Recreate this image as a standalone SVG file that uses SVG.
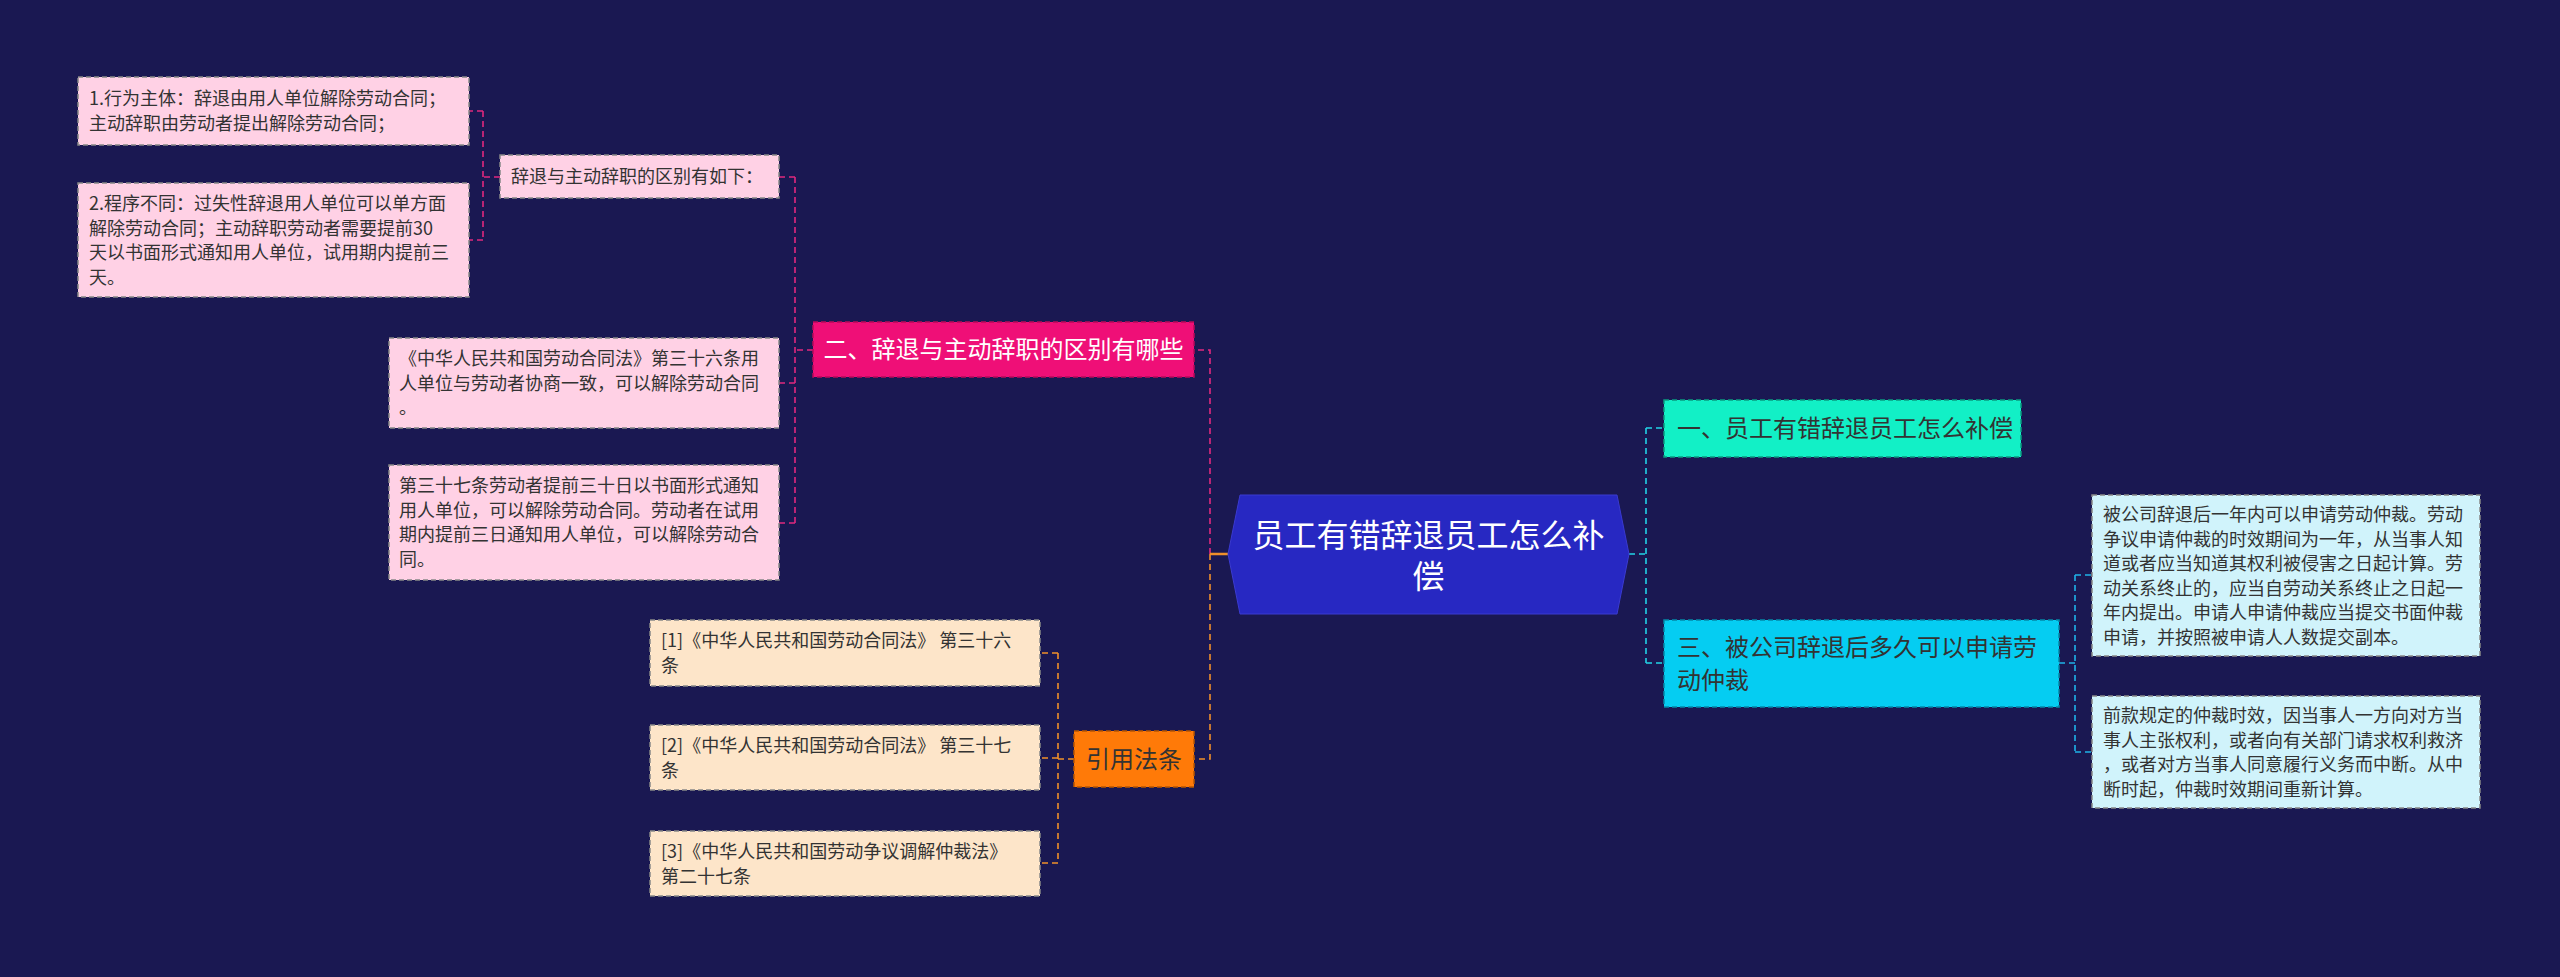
<svg xmlns="http://www.w3.org/2000/svg" width="2560" height="977" viewBox="0 0 2560 977">
<style>
.t{font-family:"Noto Sans CJK SC","Liberation Sans",sans-serif;}
.leaf{font-size:18px;fill:#333333;}
.big{font-size:24px;}
.c{stroke-width:1.6;fill:none;stroke-dasharray:6,4;}
.pk{stroke:#e0287d;}
.or{stroke:#f0902a;}
.cy{stroke:#22d3e6;}
.cb{stroke:#1fb2e8;}
.bx{stroke-width:1.5;stroke-dasharray:5,3;}
</style>
<rect width="2560" height="977" fill="#1a1852"/>
<g id="connectors">
<path class="c pk" d="M1210,554 V350 H1194"/>
<path class="c or" d="M1210,554 V759 H1194"/>
<path d="M1228,554 H1210" stroke="#f0902a" stroke-width="2.5" fill="none"/>
<path class="c pk" d="M813,350 H795 M795,177 V524 M795,177 H779 M795,383 H779 M795,523 H779"/>
<path class="c pk" d="M500,177 H483 M483,111 V240 M483,111 H469 M483,240 H469"/>
<path class="c or" d="M1074,759 H1058 M1058,653 V863 M1058,653 H1040 M1058,758 H1040 M1058,863 H1040"/>
<path class="c cy" d="M1629,554 H1646 M1646,428 V663 M1646,428 H1664 M1646,663 H1664"/>
<path class="c cb" d="M2059,663 H2075 M2075,575 V752 M2075,575 H2092 M2075,752 H2092"/>
</g>
<g id="center">
<polygon points="1240,495 1617,495 1629,554 1617,614 1240,614 1228,554" fill="#2728c2" stroke="#3a3ad0" stroke-width="1"/>
<text class="t" font-size="32" fill="#ffffff" text-anchor="middle"><tspan x="1428.5" y="547">员工有错辞退员工怎么补</tspan><tspan x="1428.5" y="588">偿</tspan></text>
</g>
<g id="n-pink">
<rect class="bx" x="813" y="322" width="381" height="55" fill="#ef0f77" stroke="#b80a5a"/>
<text class="t big" x="1003.5" y="358" fill="#ffffff" text-anchor="middle">二、辞退与主动辞职的区别有哪些</text>
</g>
<g id="n-sub">
<rect class="bx" x="500" y="155" width="279" height="43" fill="#ffd1e5" stroke="#888888"/>
<text class="t leaf" x="511" y="183">辞退与主动辞职的区别有如下：</text>
</g>
<g id="n-l1">
<rect class="bx" x="78" y="77" width="391" height="68" fill="#ffd1e5" stroke="#888888"/>
<text class="t leaf"><tspan x="89" y="105">1.行为主体：辞退由用人单位解除劳动合同；</tspan><tspan x="89" y="129.5">主动辞职由劳动者提出解除劳动合同；</tspan></text>
</g>
<g id="n-l2">
<rect class="bx" x="78" y="183" width="391" height="114" fill="#ffd1e5" stroke="#888888"/>
<text class="t leaf"><tspan x="89" y="210">2.程序不同：过失性辞退用人单位可以单方面</tspan><tspan x="89" y="234.5">解除劳动合同；主动辞职劳动者需要提前30</tspan><tspan x="89" y="259">天以书面形式通知用人单位，试用期内提前三</tspan><tspan x="89" y="283.5">天。</tspan></text>
</g>
<g id="n-l3">
<rect class="bx" x="389" y="338" width="390" height="90" fill="#ffd1e5" stroke="#888888"/>
<text class="t leaf"><tspan x="399" y="365">《中华人民共和国劳动合同法》第三十六条用</tspan><tspan x="399" y="389.5">人单位与劳动者协商一致，可以解除劳动合同</tspan><tspan x="399" y="414">。</tspan></text>
</g>
<g id="n-l4">
<rect class="bx" x="389" y="465" width="390" height="115" fill="#ffd1e5" stroke="#888888"/>
<text class="t leaf"><tspan x="399" y="492">第三十七条劳动者提前三十日以书面形式通知</tspan><tspan x="399" y="516.5">用人单位，可以解除劳动合同。劳动者在试用</tspan><tspan x="399" y="541">期内提前三日通知用人单位，可以解除劳动合</tspan><tspan x="399" y="565.5">同。</tspan></text>
</g>
<g id="n-orange">
<rect class="bx" x="1074" y="731" width="120" height="56" fill="#ff7a08" stroke="#b85500"/>
<text class="t big" x="1134" y="767.5" fill="#333333" text-anchor="middle">引用法条</text>
</g>
<g id="n-r1">
<rect class="bx" x="650" y="620" width="390" height="66" fill="#fde5c9" stroke="#888888"/>
<text class="t leaf"><tspan x="661" y="647">[1]《中华人民共和国劳动合同法》 第三十六</tspan><tspan x="661" y="671.5">条</tspan></text>
</g>
<g id="n-r2">
<rect class="bx" x="650" y="725" width="390" height="65" fill="#fde5c9" stroke="#888888"/>
<text class="t leaf"><tspan x="661" y="752">[2]《中华人民共和国劳动合同法》 第三十七</tspan><tspan x="661" y="776.5">条</tspan></text>
</g>
<g id="n-r3">
<rect class="bx" x="650" y="831" width="390" height="65" fill="#fde5c9" stroke="#888888"/>
<text class="t leaf"><tspan x="661" y="858">[3]《中华人民共和国劳动争议调解仲裁法》</tspan><tspan x="661" y="882.5">第二十七条</tspan></text>
</g>
<g id="n-c1">
<rect class="bx" x="1664" y="400" width="357" height="57" fill="#12f0c6" stroke="#0a9a80"/>
<text class="t big" x="1677" y="437" fill="#333333">一、员工有错辞退员工怎么补偿</text>
</g>
<g id="n-c2">
<rect class="bx" x="1664" y="620" width="395" height="87" fill="#05cdf2" stroke="#0388a8"/>
<text class="t big" fill="#333333"><tspan x="1677" y="656">三、被公司辞退后多久可以申请劳</tspan><tspan x="1677" y="689">动仲裁</tspan></text>
</g>
<g id="n-c3">
<rect class="bx" x="2092" y="495" width="388" height="161" fill="#d0f3fb" stroke="#888888"/>
<text class="t leaf"><tspan x="2103" y="521">被公司辞退后一年内可以申请劳动仲裁。劳动</tspan><tspan x="2103" y="545.5">争议申请仲裁的时效期间为一年，从当事人知</tspan><tspan x="2103" y="570">道或者应当知道其权利被侵害之日起计算。劳</tspan><tspan x="2103" y="594.5">动关系终止的，应当自劳动关系终止之日起一</tspan><tspan x="2103" y="619">年内提出。申请人申请仲裁应当提交书面仲裁</tspan><tspan x="2103" y="643.5">申请，并按照被申请人人数提交副本。</tspan></text>
</g>
<g id="n-c4">
<rect class="bx" x="2092" y="696" width="388" height="112" fill="#d0f3fb" stroke="#888888"/>
<text class="t leaf"><tspan x="2103" y="722">前款规定的仲裁时效，因当事人一方向对方当</tspan><tspan x="2103" y="746.5">事人主张权利，或者向有关部门请求权利救济</tspan><tspan x="2103" y="771">，或者对方当事人同意履行义务而中断。从中</tspan><tspan x="2103" y="795.5">断时起，仲裁时效期间重新计算。</tspan></text>
</g>
</svg>
